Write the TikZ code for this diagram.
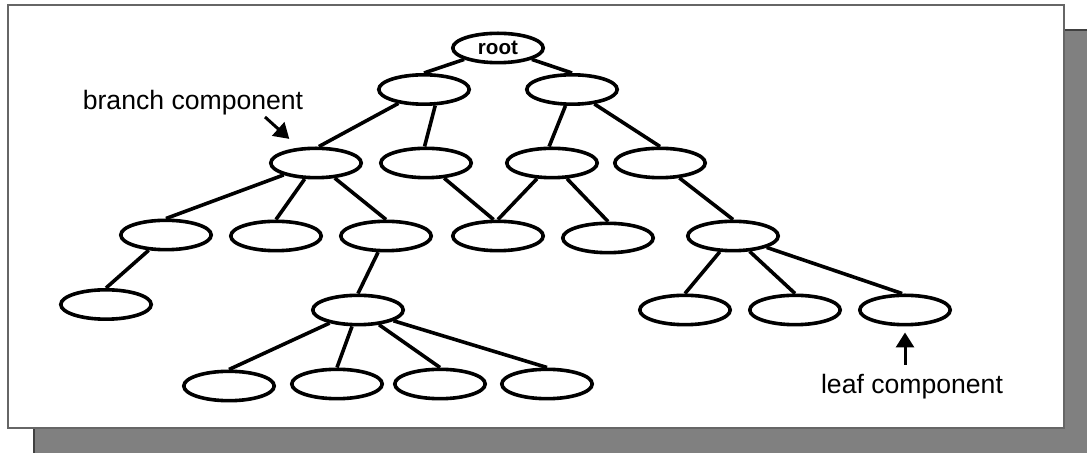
\documentclass[tikz,border=0pt]{standalone}
\usepackage{fontspec}
\setmainfont{Liberation Sans}
\usetikzlibrary{shapes.geometric,arrows.meta}
\begin{document}
\begin{tikzpicture}[x=0.5pt,y=-0.5pt,
  comp/.style={ellipse,draw,line width=1.8pt,minimum width=45.2pt,minimum height=14.7pt,inner sep=0pt,fill=white},
  link/.style={line width=1.8pt},
  lbl/.style={font=\fontsize{13.3}{16}\selectfont,inner sep=0pt},
  pointer/.style={line width=1.5pt,-{Triangle[width=9pt,length=7.5pt]}},
  shadowbox/.style={fill=gray,draw=black!75,line width=0.6pt},
  framebox/.style={fill=white,draw=black!60,line width=0.8pt}]
\useasboundingbox (0,0) rectangle (1087,453);
\path[shadowbox] (34,30) rectangle (1092,458);
\path[framebox] (8,5) rectangle (1064,428);
% nodes
\node[comp,font=\bfseries\fontsize{10.3}{12}\selectfont] (r) at (498,48) {root};
\node[comp] (a1) at (424,89.5) {};
\node[comp] (a2) at (572,89.5) {};
\node[comp] (b1) at (316,163) {};
\node[comp] (b2) at (426,163) {};
\node[comp] (b3) at (552,163) {};
\node[comp] (b4) at (660,163) {};
\node[comp] (c1) at (166,235) {};
\node[comp] (c2) at (276,236) {};
\node[comp] (c3) at (386,236) {};
\node[comp] (c4) at (498,236) {};
\node[comp] (c5) at (608,238) {};
\node[comp] (c6) at (733,236) {};
\node[comp] (d1) at (106,304.5) {};
\node[comp] (d2) at (358,310) {};
\node[comp] (d3) at (685,310) {};
\node[comp] (d4) at (795,310) {};
\node[comp] (d5) at (905,310) {};
\node[comp] (e1) at (229,386) {};
\node[comp] (e2) at (337,384) {};
\node[comp] (e3) at (440,384) {};
\node[comp] (e4) at (547,384) {};
% edges
\draw[link] (r) -- (a1.north);
\draw[link] (r) -- (a2.north);
\draw[link] (a1) -- (b1.80);
\draw[link] (a1.305) -- (b2.95);
\draw[link] (a2) -- (b3.100);
\draw[link] (a2) -- (b4.north);
\draw[link] (b1) -- (c1.north);
\draw[link] (b1) -- (c2.north);
\draw[link] (b1) -- (c3.north);
\draw[link] (b2) -- (c4.105);
\draw[link] (b3) -- (c4.90);
\draw[link] (b3) -- (c5.north);
\draw[link] (b4) -- (c6.north);
\draw[link] (c1) -- (d1.north);
\draw[link] (c3) -- (d2.north);
\draw[link] (c6) -- (d3.north);
\draw[link] (c6) -- (d4.north);
\draw[link] (c6) -- (d5.100);
\draw[link] (d2) -- (e1.north);
\draw[link] (d2) -- (e2.north);
\draw[link] (d2) -- (e3.north);
\draw[link] (d2) -- (e4.north);
% labels
\node[lbl,anchor=base] (branch) at (193,110) {branch component};
\node[lbl,anchor=base] (leaf) at (912,394) {leaf component};
\coordinate (bstart) at (265,117);
\coordinate (lstart) at (905,365);
\draw[pointer,shorten >=6.5pt] (bstart) -- (b1);
\draw[pointer,shorten >=3pt] (lstart) -- (d5.south);
\end{tikzpicture}
\end{document}
